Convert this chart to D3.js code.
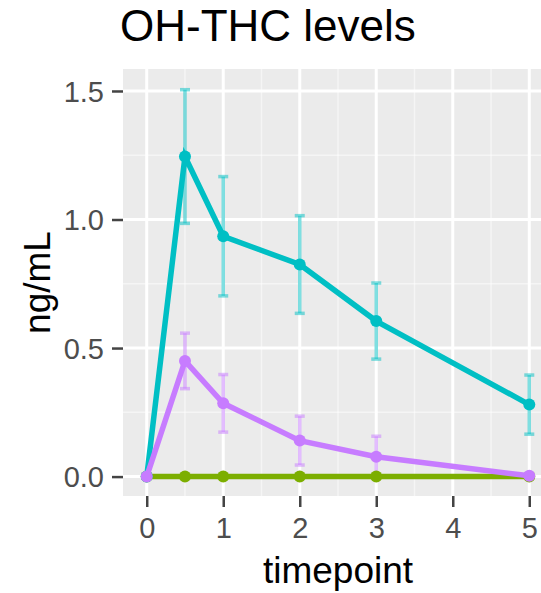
<!DOCTYPE html>
<html>
<head>
<meta charset="utf-8">
<script src="https://cdn.jsdelivr.net/npm/d3@7"></script>
<style>
  body { margin: 0; background: #fff; }
  svg text { font-family: "Liberation Sans", Arial, sans-serif; }
</style>
</head>
<body>
<svg id="chart" width="541" height="593"></svg>
<script>
// data
const timepoints = [0, 0.5, 1, 2, 3, 5];
const tealMean   = [0, 1.245, 0.935, 0.825, 0.605, 0.28];
const tealSe     = [0, 0.26, 0.232, 0.19, 0.148, 0.115];
const purpleMean = [0, 0.45, 0.285, 0.14, 0.077, 0.003];
const purpleSe   = [0, 0.108, 0.112, 0.095, 0.08, 0.004];
const greenMean  = [0, 0, 0, 0, 0, 0];
const greenSe    = [0, 0, 0, 0, 0, 0];
const xTicks = [0, 1, 2, 3, 4, 5];
const yTicks = [0, 0.5, 1.0, 1.5];

const series = [
  { color: "#7CAE00", mean: greenMean, se: greenSe },
  { color: "#00BFC4", mean: tealMean, se: tealSe },
  { color: "#C77CFF", mean: purpleMean, se: purpleSe }
].map(s => ({
  color: s.color,
  pts: timepoints.map((t, i) => ({ t, m: s.mean[i], se: s.se[i] }))
}));

const svg = d3.select("#chart");
const panel = { left: 123, right: 553, top: 69, bottom: 496 };

const x = d3.scaleLinear().domain([-0.31, 5.31]).range([panel.left, panel.right]);
const y = d3.scaleLinear().domain([-0.0755, 1.5855]).range([panel.bottom, panel.top]);

// panel background
svg.append("rect")
  .attr("x", panel.left).attr("y", panel.top)
  .attr("width", panel.right - panel.left).attr("height", panel.bottom - panel.top)
  .attr("fill", "#EBEBEB");

const grid = svg.append("g");
// minor grid
[0.25, 0.75, 1.25].forEach(v => {
  grid.append("line").attr("x1", panel.left).attr("x2", panel.right)
    .attr("y1", y(v)).attr("y2", y(v)).attr("stroke", "#fff").attr("stroke-opacity", 0.5).attr("stroke-width", 1.5);
});
[0.5, 1.5, 2.5, 3.5, 4.5].forEach(v => {
  grid.append("line").attr("y1", panel.top).attr("y2", panel.bottom)
    .attr("x1", x(v)).attr("x2", x(v)).attr("stroke", "#fff").attr("stroke-opacity", 0.5).attr("stroke-width", 1.5);
});
// major grid
yTicks.forEach(v => {
  grid.append("line").attr("x1", panel.left).attr("x2", panel.right)
    .attr("y1", y(v)).attr("y2", y(v)).attr("stroke", "#fff").attr("stroke-width", 3);
});
xTicks.forEach(v => {
  grid.append("line").attr("y1", panel.top).attr("y2", panel.bottom)
    .attr("x1", x(v)).attr("x2", x(v)).attr("stroke", "#fff").attr("stroke-width", 3);
});

// axes
const xAxis = svg.append("g")
  .attr("transform", `translate(0,${panel.bottom})`)
  .call(d3.axisBottom(x).tickValues(xTicks).tickSize(11).tickPadding(8).tickFormat(d3.format("d")));
const yAxis = svg.append("g")
  .attr("transform", `translate(${panel.left},0)`)
  .call(d3.axisLeft(y).tickValues(yTicks).tickSize(11).tickPadding(8).tickFormat(d3.format(".1f")));
[xAxis, yAxis].forEach(a => {
  a.select(".domain").remove();
  a.selectAll(".tick line").attr("stroke", "#444").attr("stroke-width", 2.5);
  a.selectAll(".tick text").attr("fill", "#4D4D4D").attr("font-size", 29)
    .attr("font-family", "'Liberation Sans', Arial, sans-serif");
});
xAxis.selectAll(".tick text").attr("dy", "0.78em");
yAxis.selectAll(".tick text").attr("dy", "0.35em");

// error bars
const capW = 5;
series.forEach(s => {
  const g = svg.append("g").attr("stroke", s.color).attr("stroke-opacity", 0.5).attr("stroke-width", 3.5);
  s.pts.filter(d => d.se > 0.01).forEach(d => {
    g.append("line").attr("x1", x(d.t)).attr("x2", x(d.t)).attr("y1", y(d.m - d.se)).attr("y2", y(d.m + d.se));
    g.append("line").attr("x1", x(d.t) - capW).attr("x2", x(d.t) + capW).attr("y1", y(d.m - d.se)).attr("y2", y(d.m - d.se));
    g.append("line").attr("x1", x(d.t) - capW).attr("x2", x(d.t) + capW).attr("y1", y(d.m + d.se)).attr("y2", y(d.m + d.se));
  });
});

// lines and points
const line = d3.line().x(d => x(d.t)).y(d => y(d.m));
series.forEach(s => {
  svg.append("path").datum(s.pts)
    .attr("d", line).attr("fill", "none")
    .attr("stroke", s.color).attr("stroke-width", 5.5);
  svg.selectAll(null).data(s.pts).join("circle")
    .attr("cx", d => x(d.t)).attr("cy", d => y(d.m))
    .attr("r", 6).attr("fill", s.color);
});

// titles
svg.append("text").attr("x", 120).attr("y", 41)
  .attr("font-size", 44).attr("fill", "#000").text("OH-THC levels");
svg.append("text").attr("x", (panel.left + panel.right) / 2).attr("y", 583)
  .attr("text-anchor", "middle").attr("font-size", 37).attr("fill", "#000").text("timepoint");
svg.append("text")
  .attr("transform", `translate(50,${(panel.top + panel.bottom) / 2}) rotate(-90)`)
  .attr("text-anchor", "middle").attr("font-size", 37).attr("fill", "#000").text("ng/mL");
</script>
</body>
</html>
